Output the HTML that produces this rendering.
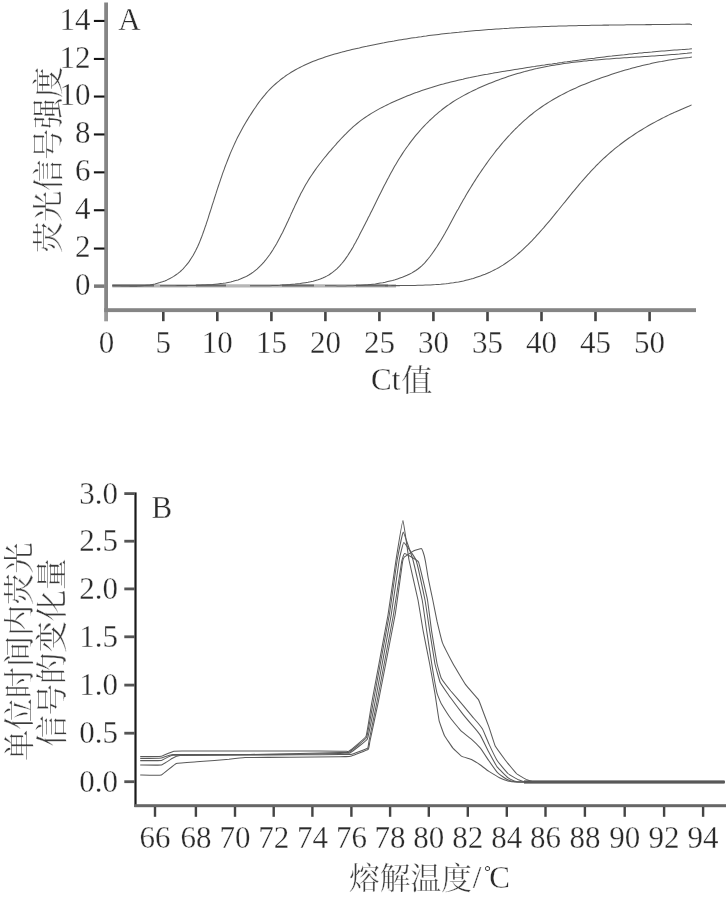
<!DOCTYPE html><html lang="zh"><head><meta charset="utf-8"><title>Figure</title><style>html,body{margin:0;padding:0;background:#fff}svg{display:block;will-change:transform}text{font-family:"Liberation Serif","Noto Serif CJK SC",serif;stroke:#fff;stroke-width:.3px}</style></head><body>
<svg width="726" height="898" viewBox="0 0 726 898">
<rect width="726" height="898" fill="#fff"/>
<rect x="104.2" y="2.5" width="3.8" height="309.5" fill="#858585"/>
<rect x="104.2" y="312" width="3.8" height="9.3" fill="#9a9a9a"/>
<rect x="104.2" y="308.2" width="591.8" height="3.9" fill="#858585"/>
<rect x="93.9" y="19.9" width="10.6" height="2.1" fill="#151515"/>
<text x="90.6" y="29.7" font-size="31" text-anchor="end" fill="#2a2a2a">14</text>
<rect x="93.9" y="57.9" width="10.6" height="2.1" fill="#151515"/>
<text x="90.6" y="67.6" font-size="31" text-anchor="end" fill="#2a2a2a">12</text>
<rect x="93.9" y="95.5" width="10.6" height="2.1" fill="#151515"/>
<text x="90.6" y="105.2" font-size="31" text-anchor="end" fill="#2a2a2a">10</text>
<rect x="93.9" y="133.4" width="10.6" height="2.1" fill="#151515"/>
<text x="90.6" y="143.2" font-size="31" text-anchor="end" fill="#2a2a2a">8</text>
<rect x="93.9" y="171.3" width="10.6" height="2.1" fill="#151515"/>
<text x="90.6" y="181.1" font-size="31" text-anchor="end" fill="#2a2a2a">6</text>
<rect x="93.9" y="209.2" width="10.6" height="2.1" fill="#151515"/>
<text x="90.6" y="219.0" font-size="31" text-anchor="end" fill="#2a2a2a">4</text>
<rect x="93.9" y="247.5" width="10.6" height="2.1" fill="#151515"/>
<text x="90.6" y="257.3" font-size="31" text-anchor="end" fill="#2a2a2a">2</text>
<rect x="94" y="284.4" width="10.5" height="3.5" fill="#7a7a7a"/>
<text x="90.6" y="294.8" font-size="31" text-anchor="end" fill="#2a2a2a">0</text>
<rect x="162.0" y="312" width="2.6" height="9.2" fill="#444"/>
<rect x="216.0" y="312" width="2.6" height="9.2" fill="#444"/>
<rect x="270.1" y="312" width="2.6" height="9.2" fill="#444"/>
<rect x="324.1" y="312" width="2.6" height="9.2" fill="#444"/>
<rect x="378.1" y="312" width="2.6" height="9.2" fill="#444"/>
<rect x="432.1" y="312" width="2.6" height="9.2" fill="#444"/>
<rect x="486.2" y="312" width="2.6" height="9.2" fill="#444"/>
<rect x="540.2" y="312" width="2.6" height="9.2" fill="#444"/>
<rect x="594.2" y="312" width="2.6" height="9.2" fill="#444"/>
<rect x="648.3" y="312" width="2.6" height="9.2" fill="#444"/>
<text x="106.6" y="352.6" font-size="31" text-anchor="middle" fill="#2a2a2a">0</text>
<text x="163.3" y="352.6" font-size="31" text-anchor="middle" fill="#2a2a2a">5</text>
<text x="217.3" y="352.6" font-size="31" text-anchor="middle" fill="#2a2a2a">10</text>
<text x="271.4" y="352.6" font-size="31" text-anchor="middle" fill="#2a2a2a">15</text>
<text x="325.4" y="352.6" font-size="31" text-anchor="middle" fill="#2a2a2a">20</text>
<text x="379.4" y="352.6" font-size="31" text-anchor="middle" fill="#2a2a2a">25</text>
<text x="433.4" y="352.6" font-size="31" text-anchor="middle" fill="#2a2a2a">30</text>
<text x="487.5" y="352.6" font-size="31" text-anchor="middle" fill="#2a2a2a">35</text>
<text x="541.5" y="352.6" font-size="31" text-anchor="middle" fill="#2a2a2a">40</text>
<text x="595.5" y="352.6" font-size="31" text-anchor="middle" fill="#2a2a2a">45</text>
<text x="649.6" y="352.6" font-size="31" text-anchor="middle" fill="#2a2a2a">50</text>
<text x="118.3" y="29.6" font-size="31" fill="#2a2a2a">A</text>
<text x="371" y="390.2" font-size="31" fill="#2a2a2a">Ct</text>
<text x="401.2" y="391.2" font-size="31.2" fill="#3a3a3a">值</text>
<text transform="translate(59.2 252.7) rotate(-90)" font-size="31" fill="#3a3a3a">荧光信号强度</text>
<path d="M112.3 285.9 L396 285.9" stroke="#b6b6b6" stroke-width="3.2" fill="none"/>
<path d="M112.3 285.5 L154 285.5" stroke="#6a6a6a" stroke-width="1.9" fill="none"/>
<path d="M196 285.5 L226 285.5" stroke="#6a6a6a" stroke-width="1.9" fill="none"/>
<path d="M282 285.5 L314 285.5" stroke="#6a6a6a" stroke-width="1.9" fill="none"/>
<path d="M356 285.5 L388 285.5" stroke="#6a6a6a" stroke-width="1.9" fill="none"/>
<g fill="none" stroke="#5a5a5a" stroke-width="1.05" stroke-linejoin="round">
<path d="M112.3 285.7L114.8 285.6L117.2 285.7L119.6 285.8L122.1 285.9L124.6 286.0L127.1 286.0L129.6 286.1L132.1 286.1L134.6 286.1L137.2 286.1L139.7 286.0L142.3 285.8L144.8 285.6L147.4 285.3L149.9 285.0L152.5 284.5L155.0 284.0L157.5 283.3L159.9 282.6L162.4 281.8L164.8 280.9L167.1 279.9L169.4 278.8L171.6 277.6L173.7 276.4L175.7 275.0L177.7 273.6L179.6 272.1L181.4 270.5L183.1 268.8L184.7 267.0L186.3 265.2L187.8 263.3L189.3 261.4L190.6 259.3L191.9 257.3L193.2 255.2L194.4 253.0L195.6 250.8L196.7 248.6L197.8 246.3L198.8 244.0L199.8 241.6L200.7 239.2L201.7 236.8L202.6 234.4L203.4 232.0L204.3 229.6L205.1 227.1L206.0 224.7L206.8 222.2L207.6 219.8L208.4 217.3L209.1 214.9L209.9 212.5L210.7 210.1L211.5 207.6L212.2 205.2L213.0 202.8L213.8 200.4L214.5 198.0L215.3 195.6L216.1 193.2L216.8 190.8L217.6 188.4L218.4 186.0L219.2 183.7L220.0 181.3L220.8 178.9L221.6 176.6L222.4 174.2L223.2 171.9L224.1 169.6L224.9 167.2L225.8 164.9L226.7 162.6L227.6 160.3L228.5 158.0L229.4 155.7L230.3 153.4L231.3 151.1L232.3 148.9L233.3 146.6L234.3 144.4L235.4 142.1L236.4 139.9L237.5 137.6L238.6 135.4L239.8 133.2L241.0 131.0L242.2 128.8L243.4 126.6L244.6 124.4L245.9 122.2L247.2 120.1L248.5 117.9L249.9 115.7L251.3 113.6L252.7 111.4L254.1 109.3L255.6 107.2L257.0 105.0L258.5 102.9L260.1 100.8L261.6 98.8L263.2 96.8L264.9 94.8L266.5 92.8L268.2 91.0L270.0 89.1L271.7 87.4L273.6 85.6L275.4 84.0L277.3 82.3L279.2 80.8L281.1 79.2L283.1 77.8L285.1 76.3L287.1 74.9L289.2 73.6L291.2 72.3L293.4 71.0L295.5 69.8L297.6 68.6L299.8 67.5L302.0 66.4L304.3 65.3L306.5 64.3L308.8 63.3L311.0 62.3L313.3 61.3L315.7 60.4L318.0 59.5L320.3 58.7L322.7 57.9L325.1 57.1L327.5 56.3L329.9 55.5L332.3 54.8L334.7 54.1L337.1 53.4L339.6 52.7L342.0 52.1L344.5 51.4L346.9 50.8L349.4 50.2L351.9 49.6L354.4 49.0L356.8 48.4L359.3 47.9L361.8 47.3L364.2 46.8L366.7 46.3L369.2 45.7L371.7 45.2L374.2 44.7L376.6 44.2L379.1 43.7L381.6 43.2L384.1 42.8L386.6 42.3L389.0 41.8L391.5 41.4L394.0 41.0L396.5 40.5L399.0 40.1L401.4 39.7L403.9 39.3L406.4 38.9L408.9 38.5L411.4 38.1L413.9 37.7L416.4 37.4L418.8 37.0L421.3 36.7L423.8 36.3L426.3 36.0L428.8 35.6L431.3 35.3L433.8 35.0L436.3 34.7L438.8 34.4L441.2 34.1L443.7 33.8L446.2 33.5L448.7 33.2L451.2 33.0L453.7 32.7L456.2 32.4L458.7 32.2L461.2 31.9L463.7 31.7L466.2 31.4L468.7 31.2L471.2 31.0L473.7 30.8L476.2 30.6L478.7 30.4L481.2 30.2L483.7 30.0L486.2 29.8L488.7 29.6L491.2 29.4L493.7 29.2L496.1 29.0L498.6 28.9L501.2 28.7L503.7 28.6L506.2 28.4L508.7 28.3L511.2 28.1L513.7 28.0L516.2 27.8L518.7 27.7L521.2 27.6L523.7 27.5L526.2 27.3L528.7 27.2L531.2 27.1L533.7 27.0L536.2 26.9L538.7 26.8L541.2 26.7L543.7 26.6L546.2 26.5L548.7 26.4L551.2 26.3L553.7 26.3L556.2 26.2L558.8 26.1L561.3 26.0L563.8 26.0L566.3 25.9L568.8 25.8L571.3 25.8L573.8 25.7L576.3 25.7L578.8 25.6L581.3 25.5L583.8 25.5L586.4 25.4L588.9 25.4L591.4 25.3L593.9 25.3L596.4 25.3L598.9 25.2L601.4 25.2L603.9 25.1L606.4 25.1L609.0 25.1L611.5 25.0L614.0 25.0L616.5 25.0L619.0 24.9L621.5 24.9L624.0 24.9L626.6 24.8L629.1 24.8L631.6 24.8L634.1 24.8L636.6 24.7L639.1 24.7L641.6 24.7L644.2 24.7L646.7 24.6L649.2 24.6L651.7 24.6L654.2 24.5L656.7 24.5L659.3 24.5L661.8 24.5L664.3 24.4L666.8 24.4L669.3 24.4L671.8 24.3L674.4 24.3L676.9 24.3L679.4 24.2L681.9 24.2L684.4 24.2L686.9 24.1L689.5 24.1L691.9 24.8"/>
<path d="M160.0 285.7L162.6 285.7L165.1 285.7L167.5 285.7L170.0 285.7L172.5 285.7L175.0 285.7L177.4 285.6L179.9 285.6L182.4 285.6L184.9 285.6L187.4 285.6L189.9 285.5L192.4 285.5L194.9 285.4L197.4 285.3L200.0 285.3L202.5 285.1L205.1 285.0L207.6 284.8L210.2 284.7L212.7 284.5L215.3 284.2L217.9 283.9L220.5 283.6L223.0 283.3L225.6 282.9L228.1 282.4L230.6 281.9L233.1 281.3L235.6 280.6L238.0 279.9L240.3 279.1L242.6 278.1L244.9 277.1L247.1 276.0L249.2 274.8L251.2 273.5L253.2 272.1L255.1 270.6L257.0 269.1L258.8 267.4L260.6 265.7L262.3 263.9L263.9 262.1L265.5 260.2L267.0 258.2L268.5 256.2L270.0 254.2L271.4 252.1L272.8 250.0L274.1 247.8L275.4 245.7L276.7 243.5L277.9 241.3L279.1 239.1L280.3 236.8L281.4 234.6L282.6 232.4L283.7 230.1L284.8 227.8L285.9 225.5L286.9 223.3L288.0 221.0L289.0 218.7L290.1 216.4L291.1 214.1L292.2 211.8L293.2 209.5L294.3 207.2L295.3 204.9L296.4 202.7L297.5 200.4L298.6 198.1L299.7 195.9L300.8 193.6L302.0 191.4L303.2 189.2L304.4 187.0L305.6 184.8L306.9 182.7L308.2 180.5L309.5 178.4L310.9 176.3L312.3 174.2L313.7 172.1L315.1 170.1L316.6 168.0L318.1 166.0L319.6 164.0L321.2 162.0L322.7 160.0L324.3 158.0L325.9 156.1L327.5 154.1L329.1 152.2L330.8 150.3L332.4 148.4L334.1 146.5L335.8 144.6L337.4 142.7L339.1 140.9L340.8 139.0L342.6 137.2L344.3 135.4L346.1 133.6L347.8 131.8L349.6 130.1L351.5 128.4L353.3 126.7L355.2 125.1L357.1 123.5L359.1 121.9L361.0 120.4L363.1 118.9L365.1 117.5L367.2 116.1L369.3 114.7L371.4 113.4L373.6 112.1L375.7 110.9L377.9 109.6L380.1 108.4L382.4 107.3L384.6 106.1L386.9 105.0L389.2 103.9L391.4 102.8L393.7 101.7L396.0 100.7L398.3 99.7L400.7 98.7L403.0 97.7L405.3 96.8L407.6 95.8L410.0 94.9L412.3 94.0L414.7 93.1L417.1 92.3L419.4 91.4L421.8 90.6L424.2 89.8L426.6 89.0L429.0 88.2L431.4 87.5L433.8 86.7L436.2 86.0L438.6 85.3L441.0 84.6L443.4 84.0L445.8 83.3L448.2 82.7L450.7 82.1L453.1 81.5L455.5 80.9L458.0 80.3L460.4 79.7L462.9 79.2L465.3 78.6L467.8 78.1L470.2 77.6L472.7 77.0L475.2 76.5L477.6 76.1L480.1 75.6L482.6 75.1L485.0 74.6L487.5 74.2L490.0 73.7L492.5 73.3L494.9 72.8L497.4 72.4L499.9 72.0L502.4 71.6L504.8 71.2L507.3 70.8L509.8 70.4L512.3 70.0L514.8 69.6L517.3 69.2L519.8 68.8L522.2 68.4L524.7 68.0L527.2 67.6L529.7 67.2L532.2 66.8L534.7 66.5L537.1 66.1L539.6 65.7L542.1 65.3L544.6 65.0L547.1 64.6L549.6 64.2L552.1 63.9L554.5 63.5L557.0 63.2L559.5 62.8L562.0 62.5L564.5 62.1L567.0 61.8L569.5 61.4L572.0 61.1L574.4 60.7L576.9 60.4L579.4 60.1L581.9 59.7L584.4 59.4L586.9 59.1L589.4 58.8L591.9 58.5L594.4 58.2L596.9 57.8L599.3 57.5L601.8 57.2L604.3 56.9L606.8 56.6L609.3 56.3L611.8 56.1L614.3 55.8L616.8 55.5L619.3 55.2L621.8 54.9L624.3 54.7L626.8 54.4L629.3 54.1L631.8 53.9L634.3 53.6L636.8 53.4L639.3 53.1L641.8 52.9L644.3 52.6L646.8 52.4L649.3 52.2L651.8 52.0L654.3 51.7L656.8 51.5L659.3 51.3L661.8 51.1L664.3 50.9L666.8 50.7L669.3 50.5L671.8 50.3L674.3 50.1L676.9 49.9L679.4 49.7L681.9 49.6L684.4 49.4L686.9 49.2L689.4 49.1L691.9 48.7"/>
<path d="M250.0 285.7L252.6 285.8L255.1 285.8L257.6 285.8L260.1 285.8L262.6 285.8L265.1 285.8L267.6 285.8L270.0 285.7L272.5 285.6L275.0 285.5L277.4 285.4L279.9 285.3L282.4 285.1L284.9 285.0L287.4 284.8L289.9 284.6L292.5 284.3L295.1 284.1L297.7 283.8L300.2 283.5L302.8 283.1L305.4 282.7L308.0 282.3L310.5 281.8L313.1 281.2L315.5 280.5L318.0 279.8L320.3 279.0L322.7 278.0L324.9 277.0L327.1 275.9L329.2 274.7L331.2 273.3L333.1 271.9L335.0 270.4L336.8 268.8L338.5 267.1L340.2 265.3L341.8 263.5L343.4 261.6L344.9 259.6L346.3 257.6L347.8 255.5L349.1 253.4L350.5 251.2L351.8 249.1L353.1 246.9L354.3 244.6L355.6 242.4L356.8 240.1L358.0 237.9L359.2 235.6L360.3 233.3L361.5 231.1L362.7 228.8L363.8 226.6L365.0 224.3L366.1 222.1L367.2 219.9L368.3 217.6L369.5 215.4L370.6 213.1L371.7 210.9L372.8 208.7L373.9 206.4L375.0 204.2L376.1 202.0L377.2 199.7L378.3 197.5L379.4 195.3L380.6 193.0L381.7 190.8L382.8 188.6L383.9 186.3L385.1 184.1L386.2 181.9L387.4 179.6L388.6 177.4L389.7 175.2L390.9 173.0L392.2 170.7L393.4 168.5L394.6 166.3L395.9 164.2L397.2 162.0L398.5 159.8L399.8 157.7L401.2 155.6L402.6 153.4L404.0 151.3L405.4 149.3L406.8 147.2L408.3 145.2L409.8 143.1L411.3 141.1L412.9 139.1L414.4 137.2L416.0 135.2L417.6 133.3L419.3 131.4L420.9 129.5L422.6 127.7L424.3 125.8L426.1 124.0L427.8 122.3L429.6 120.5L431.4 118.8L433.3 117.1L435.1 115.4L437.0 113.8L438.9 112.2L440.9 110.6L442.8 109.0L444.8 107.5L446.8 106.0L448.9 104.6L450.9 103.2L453.0 101.8L455.2 100.4L457.3 99.1L459.5 97.9L461.7 96.6L463.9 95.4L466.1 94.2L468.4 93.0L470.7 91.9L472.9 90.8L475.2 89.7L477.5 88.6L479.8 87.6L482.1 86.6L484.4 85.6L486.8 84.6L489.1 83.6L491.4 82.7L493.8 81.7L496.1 80.8L498.5 79.9L500.8 79.1L503.2 78.2L505.6 77.4L507.9 76.6L510.3 75.8L512.7 75.0L515.1 74.3L517.5 73.6L519.9 72.9L522.3 72.2L524.7 71.6L527.1 70.9L529.6 70.3L532.0 69.7L534.4 69.1L536.9 68.6L539.3 68.0L541.8 67.5L544.2 67.0L546.7 66.5L549.1 66.1L551.6 65.6L554.1 65.2L556.5 64.8L559.0 64.4L561.5 64.0L564.0 63.6L566.5 63.3L569.0 62.9L571.4 62.6L573.9 62.3L576.4 62.0L578.9 61.7L581.4 61.4L583.9 61.1L586.5 60.9L589.0 60.6L591.5 60.4L594.0 60.1L596.5 59.9L599.0 59.7L601.5 59.5L604.0 59.3L606.6 59.1L609.1 58.9L611.6 58.7L614.1 58.5L616.6 58.3L619.2 58.2L621.7 58.0L624.2 57.8L626.7 57.7L629.3 57.5L631.8 57.3L634.3 57.2L636.8 57.0L639.3 56.9L641.9 56.7L644.4 56.5L646.9 56.4L649.4 56.2L651.9 56.0L654.4 55.9L656.9 55.7L659.4 55.5L661.9 55.4L664.4 55.2L666.9 55.0L669.4 54.8L671.9 54.6L674.4 54.4L676.9 54.2L679.4 54.0L681.9 53.7L684.4 53.5L686.9 53.3L689.3 53.0L691.9 52.8"/>
<path d="M325.0 285.7L327.5 285.7L330.0 285.8L332.6 285.8L335.1 285.8L337.6 285.9L340.2 285.9L342.7 285.9L345.2 285.9L347.7 285.8L350.3 285.8L352.8 285.7L355.3 285.6L357.8 285.5L360.3 285.4L362.8 285.2L365.3 285.0L367.8 284.8L370.3 284.5L372.8 284.2L375.3 283.9L377.8 283.5L380.3 283.1L382.8 282.7L385.2 282.2L387.7 281.6L390.1 281.0L392.6 280.4L395.0 279.7L397.5 278.9L399.9 278.1L402.3 277.3L404.7 276.3L407.0 275.3L409.3 274.2L411.5 273.1L413.7 271.8L415.8 270.5L417.9 269.0L419.8 267.5L421.7 265.8L423.5 264.1L425.2 262.3L426.8 260.4L428.4 258.5L430.0 256.5L431.5 254.5L432.9 252.5L434.4 250.4L435.8 248.3L437.2 246.2L438.5 244.1L439.8 242.0L441.2 239.8L442.4 237.7L443.7 235.5L445.0 233.3L446.2 231.1L447.4 228.9L448.6 226.7L449.8 224.5L451.0 222.2L452.2 220.0L453.4 217.8L454.6 215.5L455.8 213.3L457.0 211.1L458.3 208.9L459.5 206.7L460.7 204.4L462.0 202.2L463.2 200.1L464.5 197.9L465.7 195.7L467.0 193.5L468.3 191.4L469.6 189.2L471.0 187.0L472.3 184.9L473.6 182.8L475.0 180.6L476.3 178.5L477.7 176.4L479.1 174.3L480.5 172.2L481.9 170.1L483.4 168.0L484.8 166.0L486.3 163.9L487.8 161.8L489.2 159.8L490.7 157.8L492.3 155.7L493.8 153.7L495.3 151.7L496.9 149.7L498.5 147.8L500.1 145.8L501.7 143.9L503.3 142.0L505.0 140.1L506.7 138.2L508.3 136.3L510.1 134.5L511.8 132.6L513.5 130.8L515.3 129.0L517.1 127.3L518.9 125.5L520.7 123.8L522.5 122.1L524.4 120.4L526.3 118.8L528.2 117.1L530.1 115.5L532.1 114.0L534.0 112.4L536.0 110.9L538.1 109.4L540.1 108.0L542.2 106.5L544.2 105.1L546.4 103.7L548.5 102.4L550.6 101.1L552.8 99.8L555.0 98.5L557.2 97.3L559.4 96.0L561.6 94.9L563.9 93.7L566.2 92.5L568.4 91.4L570.7 90.3L573.0 89.2L575.4 88.2L577.7 87.1L580.0 86.1L582.4 85.1L584.7 84.2L587.1 83.2L589.5 82.3L591.8 81.3L594.2 80.4L596.6 79.6L599.0 78.7L601.4 77.8L603.8 77.0L606.2 76.2L608.6 75.4L611.0 74.6L613.3 73.8L615.7 73.0L618.1 72.3L620.5 71.6L622.9 70.8L625.3 70.1L627.7 69.4L630.1 68.8L632.5 68.1L634.9 67.4L637.3 66.8L639.8 66.2L642.2 65.6L644.6 65.0L647.0 64.4L649.5 63.9L651.9 63.3L654.3 62.8L656.8 62.3L659.3 61.8L661.7 61.4L664.2 60.9L666.7 60.5L669.2 60.1L671.7 59.7L674.2 59.3L676.7 58.9L679.2 58.6L681.8 58.3L684.3 58.0L686.9 57.7L689.5 57.4L691.9 56.9"/>
<path d="M385.0 285.7L387.6 285.7L390.1 285.7L392.5 285.6L395.0 285.6L397.5 285.6L399.9 285.6L402.5 285.5L405.0 285.5L407.5 285.5L410.0 285.5L412.6 285.4L415.1 285.4L417.7 285.3L420.2 285.3L422.8 285.2L425.4 285.1L427.9 285.0L430.5 284.9L433.1 284.7L435.6 284.6L438.2 284.4L440.7 284.2L443.3 283.9L445.9 283.7L448.4 283.4L450.9 283.0L453.5 282.7L456.0 282.3L458.5 281.9L461.0 281.4L463.5 280.9L465.9 280.3L468.4 279.7L470.8 279.1L473.3 278.4L475.7 277.6L478.1 276.8L480.4 276.0L482.8 275.1L485.1 274.2L487.4 273.2L489.7 272.2L492.0 271.1L494.2 270.0L496.4 268.9L498.6 267.7L500.8 266.4L502.9 265.1L505.0 263.7L507.1 262.3L509.1 260.9L511.2 259.4L513.2 257.9L515.1 256.3L517.1 254.7L519.0 253.0L520.9 251.4L522.8 249.7L524.6 247.9L526.4 246.2L528.3 244.4L530.0 242.6L531.8 240.8L533.6 238.9L535.3 237.1L537.0 235.2L538.7 233.3L540.4 231.4L542.1 229.5L543.8 227.6L545.4 225.6L547.1 223.7L548.7 221.8L550.4 219.8L552.0 217.8L553.6 215.9L555.2 213.9L556.8 211.9L558.4 210.0L560.0 208.0L561.6 206.0L563.2 204.0L564.8 202.1L566.4 200.1L568.0 198.1L569.6 196.1L571.2 194.2L572.8 192.2L574.4 190.3L576.0 188.3L577.7 186.4L579.3 184.4L580.9 182.5L582.6 180.6L584.3 178.7L585.9 176.8L587.6 174.9L589.3 173.1L591.0 171.2L592.7 169.4L594.5 167.6L596.2 165.7L598.0 164.0L599.8 162.2L601.6 160.4L603.4 158.7L605.3 157.0L607.1 155.3L609.0 153.6L610.9 152.0L612.9 150.3L614.8 148.7L616.8 147.1L618.8 145.6L620.8 144.0L622.8 142.5L624.8 141.0L626.9 139.5L629.0 138.0L631.1 136.6L633.2 135.2L635.3 133.8L637.4 132.4L639.6 131.0L641.8 129.7L643.9 128.4L646.1 127.1L648.3 125.8L650.5 124.5L652.8 123.3L655.0 122.1L657.2 120.9L659.5 119.7L661.7 118.5L664.0 117.4L666.3 116.2L668.5 115.1L670.8 114.0L673.1 113.0L675.4 111.9L677.7 110.9L680.0 109.9L682.3 108.9L684.6 107.9L686.9 106.9L689.3 106.0L691.6 104.9"/>
</g>
<rect x="134.4" y="492.4" width="2.2" height="314.6" fill="#1a1a1a"/>
<rect x="134.4" y="804.2" width="591.6" height="3" fill="#666"/>
<rect x="124.3" y="492.2" width="10.4" height="2.8" fill="#555"/>
<text x="117.9" y="503.8" font-size="31" text-anchor="end" fill="#2a2a2a">3.0</text>
<rect x="124.3" y="539.8" width="10.4" height="2.8" fill="#555"/>
<text x="117.9" y="551.4" font-size="31" text-anchor="end" fill="#2a2a2a">2.5</text>
<rect x="124.3" y="587.5" width="10.4" height="2.8" fill="#555"/>
<text x="117.9" y="599.1" font-size="31" text-anchor="end" fill="#2a2a2a">2.0</text>
<rect x="124.3" y="635.4" width="10.4" height="2.8" fill="#555"/>
<text x="117.9" y="647.0" font-size="31" text-anchor="end" fill="#2a2a2a">1.5</text>
<rect x="124.3" y="683.7" width="10.4" height="2.8" fill="#555"/>
<text x="117.9" y="695.3" font-size="31" text-anchor="end" fill="#2a2a2a">1.0</text>
<rect x="124.3" y="731.8" width="10.4" height="2.8" fill="#555"/>
<text x="117.9" y="743.4" font-size="31" text-anchor="end" fill="#2a2a2a">0.5</text>
<rect x="124.3" y="780.3" width="10.4" height="2.8" fill="#555"/>
<text x="117.9" y="791.9" font-size="31" text-anchor="end" fill="#2a2a2a">0.0</text>
<rect x="153.8" y="807" width="2.4" height="9.8" fill="#444"/>
<text x="155.0" y="847.6" font-size="31" text-anchor="middle" fill="#2a2a2a">66</text>
<rect x="194.7" y="807" width="2.4" height="9.8" fill="#444"/>
<text x="195.9" y="847.6" font-size="31" text-anchor="middle" fill="#2a2a2a">68</text>
<rect x="233.8" y="807" width="2.4" height="9.8" fill="#444"/>
<text x="235.0" y="847.6" font-size="31" text-anchor="middle" fill="#2a2a2a">70</text>
<rect x="272.5" y="807" width="2.4" height="9.8" fill="#444"/>
<text x="273.7" y="847.6" font-size="31" text-anchor="middle" fill="#2a2a2a">72</text>
<rect x="311.2" y="807" width="2.4" height="9.8" fill="#444"/>
<text x="312.4" y="847.6" font-size="31" text-anchor="middle" fill="#2a2a2a">74</text>
<rect x="350.2" y="807" width="2.4" height="9.8" fill="#444"/>
<text x="351.4" y="847.6" font-size="31" text-anchor="middle" fill="#2a2a2a">76</text>
<rect x="388.9" y="807" width="2.4" height="9.8" fill="#444"/>
<text x="390.1" y="847.6" font-size="31" text-anchor="middle" fill="#2a2a2a">78</text>
<rect x="427.6" y="807" width="2.4" height="9.8" fill="#444"/>
<text x="428.8" y="847.6" font-size="31" text-anchor="middle" fill="#2a2a2a">80</text>
<rect x="466.6" y="807" width="2.4" height="9.8" fill="#444"/>
<text x="467.8" y="847.6" font-size="31" text-anchor="middle" fill="#2a2a2a">82</text>
<rect x="505.6" y="807" width="2.4" height="9.8" fill="#444"/>
<text x="506.8" y="847.6" font-size="31" text-anchor="middle" fill="#2a2a2a">84</text>
<rect x="544.3" y="807" width="2.4" height="9.8" fill="#444"/>
<text x="545.5" y="847.6" font-size="31" text-anchor="middle" fill="#2a2a2a">86</text>
<rect x="583.7" y="807" width="2.4" height="9.8" fill="#444"/>
<text x="584.9" y="847.6" font-size="31" text-anchor="middle" fill="#2a2a2a">88</text>
<rect x="623.5" y="807" width="2.4" height="9.8" fill="#444"/>
<text x="624.7" y="847.6" font-size="31" text-anchor="middle" fill="#2a2a2a">90</text>
<rect x="662.9" y="807" width="2.4" height="9.8" fill="#444"/>
<text x="664.1" y="847.6" font-size="31" text-anchor="middle" fill="#2a2a2a">92</text>
<rect x="701.9" y="807" width="2.4" height="9.8" fill="#444"/>
<text x="703.1" y="847.6" font-size="31" text-anchor="middle" fill="#2a2a2a">94</text>
<text x="151.6" y="517.6" font-size="31" fill="#2a2a2a">B</text>
<text x="349.1" y="889.2" font-size="30.7" fill="#3a3a3a">熔解温度</text>
<text x="472.7" y="887.6" font-size="31" fill="#2a2a2a">/</text>
<text x="484.2" y="877.2" font-size="16.5" fill="#2a2a2a" style="stroke:none">°</text>
<text x="489.3" y="887.6" font-size="31" fill="#2a2a2a">C</text>
<text transform="translate(29.6 760.65) rotate(-90)" font-size="31.2" fill="#3a3a3a">单位时间内荧光</text>
<text transform="translate(63.05 746.7) rotate(-90)" font-size="31.4" fill="#3a3a3a">信号的变化量</text>
<path d="M524 781.9 L724.6 781.9" stroke="#2e2e2e" stroke-width="3" fill="none"/>
<g fill="none" stroke="#5a5a5a" stroke-width="1.05" stroke-linejoin="round">
<path d="M140.2 756.6C141.0 756.6 160.1 756.4 161.4 756.2C162.7 756.0 172.2 751.6 173.0 751.4C173.8 751.2 178.9 751.0 182.0 751.0C185.1 751.0 245.3 751.0 250.0 751.0C254.7 751.0 296.4 751.0 300.0 751.0C303.6 751.0 338.2 751.2 340.0 751.2C341.8 751.2 345.6 751.2 346.0 751.2C346.4 751.2 348.2 751.8 349.0 751.2C349.8 750.6 365.1 738.3 366.0 736.4C366.9 734.5 370.9 707.4 371.8 702.5C372.7 697.6 387.0 620.7 388.0 615.0C389.0 609.3 395.4 563.8 396.0 560.0C396.6 556.2 402.5 520.3 403.0 520.3C403.5 520.3 408.4 556.8 409.0 560.0C409.6 563.2 417.4 597.1 418.0 600.0C418.6 602.9 422.8 629.2 423.3 631.7C423.8 634.2 429.1 661.0 429.6 663.5C430.1 666.0 434.5 690.8 434.9 693.1C435.3 695.4 438.7 718.9 439.1 720.6C439.5 722.3 443.8 734.3 444.4 735.4C445.0 736.5 452.2 747.3 452.9 748.1C453.6 748.9 460.5 755.6 461.3 756.1C462.1 756.6 471.1 759.3 471.9 759.7C472.7 760.1 479.7 764.5 480.4 765.0C481.1 765.5 488.1 770.9 488.9 771.4C489.7 771.9 498.7 777.3 499.5 777.7C500.3 778.1 507.2 780.7 507.9 780.9C508.6 781.1 514.5 781.9 516.0 781.9C517.5 781.9 536.7 781.9 545.0 781.9C553.3 781.9 717.4 781.9 724.6 781.9"/>
<path d="M140.2 758.4C141.0 758.4 160.1 758.2 161.4 758.0C162.7 757.8 169.5 754.7 173.0 754.6C176.5 754.5 244.9 754.5 250.0 754.5C255.1 754.5 296.4 753.5 300.0 753.4C303.6 753.3 338.2 752.6 340.0 752.6C341.8 752.6 345.6 752.4 346.0 752.4C346.4 752.4 348.7 752.6 349.5 752.0C350.3 751.4 365.7 739.4 366.6 737.4C367.5 735.4 372.3 707.4 373.2 702.5C374.1 697.6 388.3 620.7 389.3 615.0C390.3 609.3 396.6 563.3 397.2 560.0C397.8 556.7 402.6 532.0 403.2 532.0C403.8 532.0 412.2 557.3 413.0 560.0C413.8 562.7 421.6 597.1 422.2 600.0C422.8 602.9 426.4 629.2 426.8 631.7C427.2 634.2 431.3 661.0 431.7 663.5C432.1 666.0 436.6 691.5 437.0 693.1C437.4 694.7 440.7 702.7 441.3 703.7C441.9 704.7 450.0 717.4 450.8 718.5C451.6 719.6 460.5 730.4 461.3 731.2C462.1 732.0 471.1 738.9 471.9 739.6C472.7 740.3 479.7 747.3 480.4 748.1C481.1 748.9 488.2 759.8 488.9 760.8C489.6 761.8 496.6 771.7 497.3 772.4C498.0 773.1 505.2 778.4 505.8 778.8C506.4 779.2 511.6 781.2 512.1 781.3C512.6 781.4 516.7 781.9 518.0 781.9C519.3 781.9 536.7 781.9 545.0 781.9C553.3 781.9 717.4 781.9 724.6 781.9"/>
<path d="M140.2 760.6C141.0 760.6 160.1 760.6 161.4 760.4C162.7 760.2 169.5 755.4 173.0 755.2C176.5 755.0 244.9 754.8 250.0 754.8C255.1 754.8 296.4 754.3 300.0 754.2C303.6 754.1 338.2 753.4 340.0 753.4C341.8 753.4 345.6 753.2 346.0 753.2C346.4 753.2 349.1 753.6 350.0 753.0C350.9 752.4 366.4 741.0 367.4 739.0C368.4 737.0 374.0 707.5 375.0 702.5C376.0 697.5 390.2 620.7 391.2 615.0C392.2 609.3 398.7 562.9 399.2 560.0C399.7 557.1 403.1 542.5 403.8 542.5C404.5 542.5 415.2 557.7 416.0 560.0C416.8 562.3 424.4 597.1 425.0 600.0C425.6 602.9 429.4 629.2 429.8 631.7C430.2 634.2 434.5 661.5 434.9 663.5C435.3 665.5 439.6 681.2 440.2 682.5C440.8 683.8 447.9 694.0 448.7 695.2C449.5 696.4 460.4 710.9 461.3 712.1C462.2 713.3 471.1 723.9 471.9 724.8C472.7 725.7 479.7 734.3 480.4 735.4C481.1 736.5 488.2 751.0 488.9 752.3C489.6 753.6 496.5 766.1 497.3 767.1C498.1 768.1 507.2 777.1 507.9 777.7C508.6 778.3 513.7 780.7 514.2 780.9C514.7 781.1 518.8 781.9 520.0 781.9C521.2 781.9 536.8 781.9 545.0 781.9C553.2 781.9 717.4 781.9 724.6 781.9"/>
<path d="M140.2 765.0C141.0 765.0 160.1 765.3 161.4 765.0C162.7 764.7 171.3 758.9 172.0 758.5C172.7 758.1 176.9 755.7 180.0 755.6C183.1 755.5 245.2 755.0 250.0 755.0C254.8 755.0 296.4 754.8 300.0 754.8C303.6 754.8 338.2 754.6 340.0 754.6C341.8 754.6 345.6 754.4 346.0 754.4C346.4 754.4 350.1 754.6 351.0 754.4C351.9 754.2 366.9 748.7 367.6 748.2C368.3 747.7 368.6 742.8 369.0 741.0C369.4 739.2 375.8 707.5 376.8 702.5C377.8 697.5 392.4 620.6 393.4 615.0C394.4 609.4 401.2 564.5 401.6 562.0C402.0 559.5 403.9 553.5 404.6 553.5C405.3 553.5 417.6 560.1 418.5 562.0C419.4 563.9 427.0 597.2 427.5 600.0C428.0 602.8 431.3 629.2 431.7 631.7C432.1 634.2 436.6 661.6 437.0 663.5C437.4 665.4 440.7 677.2 441.3 678.3C441.9 679.4 449.9 689.9 450.8 691.0C451.7 692.1 462.6 704.7 463.5 705.8C464.4 706.9 473.2 717.6 474.0 718.5C474.8 719.4 481.9 728.0 482.5 729.0C483.1 730.0 488.3 742.6 488.9 743.9C489.5 745.2 496.5 759.6 497.3 760.8C498.1 762.0 507.1 772.7 507.9 773.5C508.7 774.3 517.8 779.5 518.5 779.8C519.2 780.1 524.9 781.8 526.0 781.9C527.1 782.0 537.1 781.9 545.0 781.9C552.9 781.9 717.4 781.9 724.6 781.9"/>
<path d="M140.2 775.0C141.0 775.0 160.0 775.5 161.4 775.0C162.8 774.5 174.8 763.9 176.3 763.4C177.8 762.9 197.9 761.8 200.0 761.6C202.1 761.4 227.2 759.4 229.0 759.2C230.8 759.0 242.6 757.7 245.0 757.6C247.4 757.5 286.2 757.2 290.0 757.2C293.8 757.2 337.8 756.8 340.0 756.8C342.2 756.8 345.5 756.6 346.0 756.6C346.5 756.6 350.6 756.3 351.5 756.0C352.4 755.7 367.5 750.0 368.2 749.4C368.9 748.8 369.5 743.4 369.9 741.5C370.3 739.6 377.2 707.6 378.2 702.5C379.2 697.4 394.1 620.7 395.1 615.0C396.1 609.3 402.3 563.3 402.7 561.0C403.1 558.7 404.0 557.4 404.4 557.0C404.8 556.6 413.2 551.1 413.9 550.8C414.6 550.5 421.0 548.4 421.4 548.4C421.8 548.4 422.8 551.2 423.0 551.7C423.2 552.2 425.3 560.5 425.5 561.6C425.7 562.7 427.9 576.5 428.2 578.0C428.5 579.5 432.4 598.3 432.8 600.0C433.2 601.7 436.6 619.5 437.0 621.2C437.4 622.9 441.7 640.6 442.3 642.3C442.9 644.0 452.0 661.8 452.9 663.5C453.8 665.2 464.6 683.2 465.6 684.6C466.6 686.0 477.6 698.4 478.3 699.4C479.0 700.4 482.1 708.9 482.5 710.0C482.9 711.1 488.4 725.5 488.9 726.9C489.4 728.3 494.5 744.6 495.2 746.0C495.9 747.4 505.0 759.7 505.8 760.8C506.6 761.9 515.6 772.7 516.4 773.5C517.2 774.3 526.2 779.5 526.9 779.8C527.6 780.1 533.3 781.8 534.0 781.9C534.7 782.0 537.4 781.9 545.0 781.9C552.6 781.9 717.4 781.9 724.6 781.9"/>
</g>
</svg></body></html>
